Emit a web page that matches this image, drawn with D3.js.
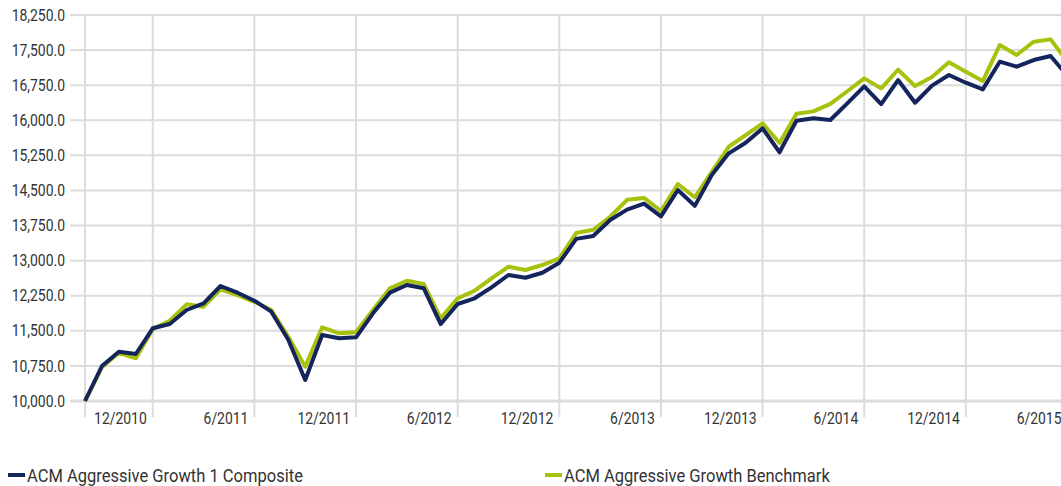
<!DOCTYPE html>
<html>
  <head>
    <meta charset="UTF-8" />
    <style>
      body { margin: 0; background: #fff; }
      svg text {
        font-family: Roboto, sans-serif;
        fill: #333;
      }
    </style>
  </head>
  <body>
    <svg></svg>
    <script src="https://d3js.org/d3.v7.min.js"></script>
    <script>
      let width = 1061,
        height = 486;

      // monthly values, 8/2010 .. 6/2015
      let composite = [
        10000, 10748, 11053, 11004, 11554, 11645, 11945, 12088, 12458, 12315,
        12143, 11909, 11310, 10449, 11410, 11340, 11361, 11874, 12315, 12479,
        12408, 11645, 12073, 12195, 12430, 12693, 12635, 12742, 12956, 13465,
        13526, 13868, 14090, 14217, 13945, 14509, 14170, 14830, 15293, 15520,
        15827, 15316, 15990, 16041, 16005, 16362, 16725, 16347, 16860, 16375,
        16740, 16967, 16803, 16660, 17252, 17145, 17287, 17373, 16950
      ];
      let benchmark = [
        10000, 10720, 11030, 10912, 11540, 11716, 12066, 12015, 12387, 12265,
        12120, 11945, 11374, 10733, 11575, 11447, 11468, 11945, 12408, 12571,
        12500, 11767, 12195, 12357, 12622, 12870, 12800, 12906, 13049, 13590,
        13660, 13938, 14300, 14340, 14060, 14634, 14355, 14900, 15434, 15684,
        15934, 15513, 16140, 16190, 16350, 16620, 16896, 16682, 17080, 16732,
        16925, 17240, 17038, 16838, 17608, 17394, 17679, 17729, 17250
      ];
      let startMonth = new Date(2010, 7, 1);
      let tickLabels = ["12/2010", "6/2011", "12/2011", "6/2012", "12/2012",
        "6/2013", "12/2013", "6/2014", "12/2014", "6/2015"];
      let yTicks = d3.range(10000, 18251, 750);
      let seriesNames = ["ACM Aggressive Growth 1 Composite", "ACM Aggressive Growth Benchmark"];
      let colors = ["#14245c", "#a7c10c"];

      let months = d3.timeMonth.range(startMonth, d3.timeMonth.offset(startMonth, composite.length));
      let monthLabel = (d) => (d.getMonth() + 1) + "/" + d.getFullYear();
      let cats = months.map(monthLabel);

      let svg = d3.select("svg").attr("width", width).attr("height", height);

      let x = d3.scalePoint().domain(cats).range([85, 1067.5]);
      let y = d3.scaleLinear().domain([10000, 18250]).range([401, 15]);

      // condensed look: Roboto squeezed horizontally
      let squeeze = 0.87;
      function placeText(sel, fx, fy) {
        sel.attr("transform", (d, i) => "translate(" + fx(d, i) + "," + fy(d, i) + ") scale(" + squeeze + ",1)");
      }

      let grid = svg.append("g").attr("stroke", "#dcdcdc");

      // horizontal gridlines
      grid.selectAll("line.h")
        .data(yTicks)
        .join("line")
        .attr("class", "h")
        .attr("x1", 70)
        .attr("x2", width)
        .attr("y1", (d) => y(d))
        .attr("y2", (d) => y(d))
        .attr("stroke-width", (d) => (d == 10000 ? 3 : 2));

      // vertical gridlines (axis line + every 6 months)
      grid.selectAll("line.v")
        .data([cats[0]].concat(tickLabels))
        .join("line")
        .attr("class", "v")
        .attr("x1", (d) => x(d))
        .attr("x2", (d) => x(d))
        .attr("y1", 15)
        .attr("y2", 417)
        .attr("stroke-width", 2);

      // y labels
      svg.append("g")
        .selectAll("text")
        .data(yTicks)
        .join("text")
        .call(placeText, () => 65, (d) => y(d))
        .attr("dy", "0.35em")
        .attr("text-anchor", "end")
        .attr("font-size", 16)
        .text((d) => d3.format(",.1f")(d));

      // x labels
      svg.append("g")
        .selectAll("text")
        .data(tickLabels)
        .join("text")
        .call(placeText, (d) => x(d) - 6, () => 424)
        .attr("text-anchor", "end")
        .attr("font-size", 16)
        .text((d) => d);

      let line = d3.line()
        .x((d, i) => x(cats[i]))
        .y((d) => y(d));

      // benchmark underneath, composite on top
      [benchmark, composite].forEach((s, k) => {
        svg.append("path")
          .datum(s)
          .attr("fill", "none")
          .attr("stroke", colors[1 - k])
          .attr("stroke-width", 4)
          .attr("stroke-linejoin", "round")
          .attr("d", line);
      });

      // legend
      let legend = svg.append("g");
      let lx = [8, 545];
      seriesNames.forEach((name, i) => {
        legend.append("rect")
          .attr("x", lx[i])
          .attr("y", 473)
          .attr("width", 17)
          .attr("height", 4)
          .attr("fill", colors[i]);
        legend.append("text")
          .datum(name)
          .call(placeText, () => lx[i] + 19, () => 482)
          .attr("font-size", 19)
          .text(name);
      });
    </script>
  </body>
</html>
